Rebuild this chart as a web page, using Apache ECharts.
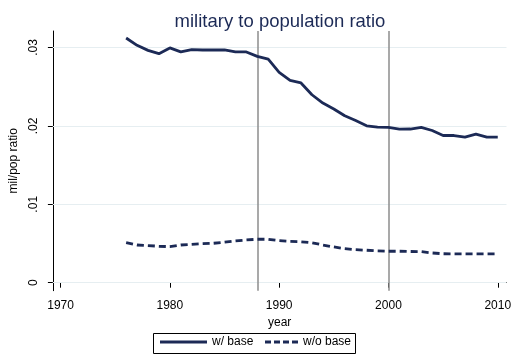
<!DOCTYPE html>
<html>
<head>
<meta charset="utf-8">
<script src="https://cdn.jsdelivr.net/npm/echarts@6/dist/echarts.min.js"></script>
<style>
  html, body { margin: 0; padding: 0; background: #fff; }
  #chart { width: 514px; height: 362px; }
</style>
</head>
<body>
<div id="chart"></div>
<script>
// Years covered by both series
const years = [1976, 1977, 1978, 1979, 1980, 1981, 1982, 1983, 1984, 1985,
               1986, 1987, 1988, 1989, 1990, 1991, 1992, 1993, 1994, 1995,
               1996, 1997, 1998, 1999, 2000, 2001, 2002, 2003, 2004, 2005,
               2006, 2007, 2008, 2009, 2010];

// Military personnel per head of population, including bases
const withBase = [0.03121, 0.03027, 0.02963, 0.02921, 0.02994, 0.02943, 0.02972, 0.02968, 0.02968, 0.02968,
                  0.02943, 0.02943, 0.02886, 0.02850, 0.02682, 0.02580, 0.02547, 0.02397, 0.02291, 0.02215,
                  0.02129, 0.02069, 0.02001, 0.01985, 0.01980, 0.01959, 0.01960, 0.01980, 0.01941, 0.01877,
                  0.01877, 0.01857, 0.01895, 0.01857, 0.01857];

// Same ratio excluding bases
const withoutBase = [0.00511, 0.00481, 0.00473, 0.00465, 0.00460, 0.00481, 0.00490, 0.00498, 0.00503, 0.00516,
                     0.00533, 0.00545, 0.00554, 0.00554, 0.00536, 0.00526, 0.00522, 0.00510, 0.00481, 0.00456,
                     0.00434, 0.00421, 0.00414, 0.00405, 0.00401, 0.00401, 0.00398, 0.00396, 0.00379, 0.00369,
                     0.00367, 0.00367, 0.00367, 0.00367, 0.00367];

// Axis ticks and reference lines
const yTicks = [0, 0.01, 0.02, 0.03];
const xTicks = [1970, 1980, 1990, 2000, 2010];
const refYears = [1988, 2000];

const navy = '#1c2a56';
const font = 'Liberation Sans, Arial, Helvetica, sans-serif';

const pairs = (vals) => years.map((y, i) => [y, vals[i]]);
const fmtY = (v) => v === 0 ? '0' : String(Number(v.toFixed(2))).replace(/^0/, '');

// Legend keys: a plain bar for the solid series, a row of dashes for the other
const solidKey = 'path://M0,0H47V3H0Z';
const dashKey = 'path://M0,0H6V3H0Z M9,0H15V3H9Z M18,0H24V3H18Z M27,0H33V3H27Z';

const legendText = { fontFamily: font, fontSize: 12, color: '#000' };

const chart = echarts.init(document.getElementById('chart'), null, { renderer: 'canvas' });

chart.setOption({
  animation: false,
  backgroundColor: '#ffffff',
  textStyle: { fontFamily: font },
  title: {
    text: 'military to population ratio',
    left: 275,
    textAlign: 'center',
    top: 7,
    textStyle: { fontFamily: font, fontSize: 18.5, fontWeight: 'normal', color: navy }
  },
  grid: { left: 47.7, right: 5, top: 31, bottom: 71.3, containLabel: false },
  xAxis: {
    type: 'value',
    min: 1969.3,
    max: 2010.8,
    name: 'year',
    nameLocation: 'middle',
    nameGap: 22,
    nameTextStyle: { fontFamily: font, fontSize: 12, color: '#000' },
    axisLine: { show: true, lineStyle: { color: '#000', width: 1 } },
    axisTick: { show: true, length: 5, customValues: xTicks, lineStyle: { color: '#000' } },
    axisLabel: {
      customValues: xTicks, margin: 9,
      fontFamily: font, fontSize: 12, color: '#000',
      formatter: (v) => String(v)
    },
    splitLine: { show: false }
  },
  yAxis: {
    type: 'value',
    min: -0.00102,
    max: 0.0321,
    name: 'mil/pop ratio',
    nameLocation: 'middle',
    nameRotate: 90,
    nameGap: 28,
    nameTextStyle: { fontFamily: font, fontSize: 12, color: '#000' },
    axisLine: { show: true, lineStyle: { color: '#000', width: 1 } },
    axisTick: { show: true, length: 5, customValues: yTicks, lineStyle: { color: '#000' } },
    axisLabel: {
      customValues: yTicks, rotate: 90, margin: 13,
      fontFamily: font, fontSize: 12, color: '#000',
      formatter: fmtY
    },
    splitLine: { show: false }
  },
  legend: [
    {
      left: 160, top: 336, padding: 0,
      itemWidth: 47, itemHeight: 3,
      textStyle: legendText,
      itemStyle: { color: navy },
      data: [{ name: 'w/ base', icon: solidKey }]
    },
    {
      left: 265, top: 336, padding: 0,
      itemWidth: 33, itemHeight: 3,
      textStyle: legendText,
      itemStyle: { color: navy },
      data: [{ name: 'w/o base', icon: dashKey }]
    }
  ],
  graphic: [
    {
      type: 'rect',
      shape: { x: 153.5, y: 333.5, width: 202, height: 20 },
      style: { fill: 'none', stroke: '#000', lineWidth: 1 },
      silent: true
    }
  ],
  series: [
    {
      name: 'w/ base',
      type: 'line',
      data: pairs(withBase),
      symbol: 'none',
      lineStyle: { color: navy, width: 2.8 },
      itemStyle: { color: navy },
      z: 5,
      markLine: {
        silent: true,
        symbol: 'none',
        label: { show: false },
        lineStyle: { color: '#8c8c8c', width: 1.5, type: 'solid' },
        data: refYears.map(v => ({ xAxis: v }))
      }
    },
    {
      name: 'w/o base',
      type: 'line',
      data: pairs(withoutBase),
      symbol: 'none',
      lineStyle: { color: navy, width: 2.8, type: [7, 4] },
      itemStyle: { color: navy },
      z: 5,
      markLine: {
        silent: true,
        symbol: 'none',
        label: { show: false },
        z: 1,
        lineStyle: { color: '#e6eef1', width: 1, type: 'solid' },
        data: yTicks.map(v => ({ yAxis: v }))
      }
    }
  ]
});
</script>
</body>
</html>
